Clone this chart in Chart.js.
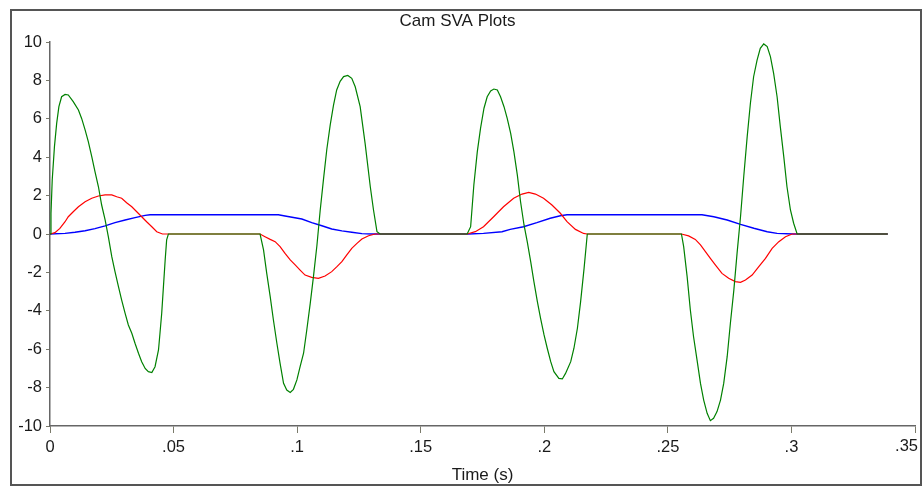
<!DOCTYPE html>
<html>
<head>
<meta charset="utf-8">
<title>Cam SVA Plots</title>
<script src="https://cdn.jsdelivr.net/npm/chart.js@4.4.1/dist/chart.umd.min.js"></script>
<style>
  html, body { margin: 0; padding: 0; background: #fff; }
</style>
</head>
<body>
<canvas id="grafico-sva" width="924" height="487"></canvas>
<script>
// Displacement (blue)
const dispTime = [0, .0061, .0101, .0142, .0182, .0223, .0263, .0304, .0344, .0385, .0405,
  .0924, .0951, .1019, .1059, .1100, .1140, .1181, .1221, .1262, .1302,
  .1694, .1754, .1829, .1862, .1916, .1970, .2024, .2065, .2092,
  .2638, .2686, .2740, .2794, .2848, .2902, .2942, .3009, .339];
const disp = [0, .03, .09, .17, .28, .42, .59, .73, .85, .97, 1.0,
  1.0, .94, .78, .59, .43, .26, .16, .09, .02, 0,
  0, .03, .12, .24, .38, .59, .82, .95, 1.0,
  1.0, .90, .73, .50, .30, .12, .03, 0, 0];

// Velocity (red)
const velTime = [0, .0020, .0040, .0061, .0074, .0094, .0115, .0142, .0169, .0196, .0223, .0250,
  .0270, .0290, .0310, .0331, .0351, .0371, .0391, .0412, .0432, .0455,
  .0850, .0870, .0891, .0911, .0931, .0951, .0972, .0992, .1012, .1032, .1059, .1086,
  .1113, .1140, .1161, .1181, .1201, .1221, .1242, .1262, .1289, .1316,
  .1688, .1721, .1754, .1795, .1835, .1876, .1910, .1937, .1964, .1997, .2031, .2065,
  .2092, .2126, .2159, .2173,
  .2555, .2584, .2611, .2632, .2652, .2672, .2692, .2719, .2746, .2773, .2794, .2814,
  .2841, .2868, .2895, .2922, .2949, .2976, .3003, .339];
const vel = [0, .07, .29, .64, .90, 1.16, 1.42, 1.68, 1.86, 1.98, 2.04, 2.04,
  1.94, 1.86, 1.63, 1.42, 1.16, .90, .64, .38, .12, 0,
  0, -.14, -.28, -.40, -.66, -1.01, -1.35, -1.61, -1.88, -2.14, -2.26, -2.31,
  -2.19, -1.96, -1.70, -1.44, -1.09, -.75, -.49, -.26, -.09, 0,
  0, .12, .38, .90, 1.42, 1.86, 2.08, 2.17, 2.08, 1.86, 1.51, 1.08,
  .64, .24, .03, 0,
  0, -.10, -.28, -.57, -.92, -1.27, -1.61, -2.05, -2.31, -2.48, -2.52, -2.40,
  -2.14, -1.70, -1.27, -.75, -.40, -.14, 0, 0];

// Acceleration (green)
const accTime = [0, .0004, .0009, .0018, .0027, .0036, .0047, .0061, .0074, .0094, .0115, .0128,
  .0142, .0155, .0169, .0182, .0196, .0209, .0223, .0236, .0250, .0263, .0277, .0290,
  .0304, .0317, .0331, .0344, .0358, .0371, .0385, .0398, .0412, .0425, .0439, .0445,
  .0452, .0459, .0466, .0472, .0479,
  .0850, .0864, .0877, .0891, .0904, .0918, .0931, .0945, .0958, .0972, .0985, .0999,
  .1012, .1026, .1039, .1053, .1066, .1080, .1093, .1107, .1120, .1134, .1147, .1160,
  .1174, .1188, .1205, .1221, .1235, .1255, .1275, .1296, .1309, .1323, .1336,
  .1688, .1702, .1715, .1729, .1742, .1756, .1769, .1783, .1796, .1810, .1823, .1837,
  .1850, .1864, .1877, .1891, .1904, .1918, .1931, .1945, .1958, .1972, .1985, .1999,
  .2012, .2026, .2039, .2059, .2073, .2086, .2107, .2120, .2134, .2147, .2161, .2174,
  .2555, .2564, .2578, .2591, .2604, .2618, .2632, .2645, .2659, .2672, .2685, .2699,
  .2713, .2726, .2740, .2753, .2767, .2780, .2794, .2807, .2821, .2834, .2847, .2861,
  .2874, .2888, .2902, .2915, .2928, .2942, .2955, .2969, .2982, .2996, .3009, .3023, .339];
const acc = [0, 1.08, 2.81, 4.55, 5.76, 6.63, 7.15, 7.27, 7.24, 6.89, 6.46, 6.02,
  5.42, 4.81, 4.03, 3.25, 2.46, 1.51, .73, -.14, -1.18, -1.96, -2.74, -3.44,
  -4.13, -4.74, -5.17, -5.69, -6.21, -6.65, -7.0, -7.17, -7.22, -6.91, -6.04, -5.17,
  -4.13, -2.74, -1.35, -.31, 0,
  0, -.83, -2.05, -3.26, -4.48, -5.69, -6.74, -7.78, -8.13, -8.25, -8.09, -7.60,
  -6.91, -6.21, -5.0, -3.61, -2.22, -.6, 1.2, 2.9, 4.4, 5.7, 6.7, 7.5,
  7.95, 8.2, 8.26, 8.11, 7.67, 6.63, 4.72, 2.46, 1.25, .12, 0,
  0, .38, 2.55, 4.29, 5.50, 6.55, 7.15, 7.45, 7.55, 7.50, 7.15, 6.63,
  6.02, 5.24, 4.29, 3.07, 1.68, .47, -.40, -1.44, -2.48, -3.52, -4.39, -5.26,
  -5.95, -6.65, -7.17, -7.52, -7.55, -7.26, -6.65, -5.95, -4.91, -3.52, -1.79, 0,
  0, -.66, -2.22, -3.96, -5.35, -6.56, -7.78, -8.65, -9.34, -9.72, -9.60, -9.25,
  -8.65, -7.78, -6.39, -4.65, -2.92, -1.01, .90, 2.98, 5.07, 6.81, 8.19, 9.06,
  9.67, 9.90, 9.76, 9.24, 8.37, 7.15, 5.59, 4.03, 2.46, 1.25, .56, 0, 0];

const xTickLabels = ['0', '.05', '.1', '.15', '.2', '.25', '.3', '.35'];

const pontos = (xs, ys) => xs.map((x, i) => ({ x: x, y: ys[i] }));

const fonte = 'Liberation Sans, Arial, sans-serif';
const eixoCor = '#7a7a6a';
const texto = '#1a1a1a';
const tickPad = 5;
const tickLen = 7;

// moldura em volta + último rótulo do eixo x encostado na moldura
const moldura = {
  id: 'moldura',
  afterDraw(chart) {
    const ctx = chart.ctx;
    const sx = chart.scales.x;
    ctx.save();
    ctx.strokeStyle = '#555';
    ctx.lineWidth = 2;
    ctx.strokeRect(11, 10, 910, 475);
    ctx.fillStyle = texto;
    ctx.font = '16.5px ' + fonte;
    ctx.textAlign = 'right';
    ctx.textBaseline = 'top';
    ctx.fillText(xTickLabels[xTickLabels.length - 1], 918, sx.top + tickLen + tickPad);
    ctx.restore();
  }
};

new Chart(document.getElementById('grafico-sva'), {
  type: 'line',
  data: {
    datasets: [
      { label: 'Displacement', data: pontos(dispTime, disp), borderColor: '#0000ff', borderWidth: 1.4, order: 3 },
      { label: 'Velocity', data: pontos(velTime, vel), borderColor: '#ff0000', borderWidth: 1.2, order: 2 },
      { label: 'Acceleration', data: pontos(accTime, acc), borderColor: '#008000', borderWidth: 1.2, order: 1 }
    ]
  },
  options: {
    responsive: false,
    animation: false,
    devicePixelRatio: 1,
    elements: { point: { radius: 0 }, line: { tension: 0, fill: false } },
    layout: { padding: { left: 0, right: 9, top: 0, bottom: 0 } },
    plugins: {
      legend: { display: false },
      tooltip: { enabled: false },
      title: {
        display: true,
        text: 'Cam SVA Plots',
        color: texto,
        font: { family: fonte, size: 17, weight: 'normal' },
        padding: { top: 11, bottom: 10.6 }
      }
    },
    scales: {
      x: {
        type: 'linear',
        min: 0,
        max: 0.35,
        ticks: {
          stepSize: 0.05,
          autoSkip: false,
          maxRotation: 0,
          padding: tickPad,
          color: texto,
          font: { family: fonte, size: 16.5 },
          // o último rótulo é desenhado pela moldura
          callback: (v) => {
            const i = Math.round(v / 0.05);
            return i === xTickLabels.length - 1 ? '' : xTickLabels[i];
          }
        },
        grid: { drawOnChartArea: false, drawTicks: true, tickLength: tickLen, color: eixoCor },
        border: { color: '#666', width: 1.5 },
        title: {
          display: true,
          text: 'Time (s)',
          color: texto,
          font: { family: fonte, size: 17 },
          padding: { top: 0, bottom: 1 }
        },
        afterFit(s) { s.height = 61; s.paddingLeft = 0; s.paddingRight = 0; }
      },
      y: {
        min: -10,
        max: 10,
        ticks: {
          stepSize: 2,
          padding: 4,
          color: texto,
          font: { family: fonte, size: 16.5 }
        },
        grid: { drawOnChartArea: false, drawTicks: true, tickLength: 4, color: eixoCor },
        border: { color: '#666', width: 1.5 },
        afterFit(s) { s.width = 50; s.paddingTop = 0; s.paddingBottom = 0; }
      }
    }
  },
  plugins: [moldura]
});
</script>
</body>
</html>
